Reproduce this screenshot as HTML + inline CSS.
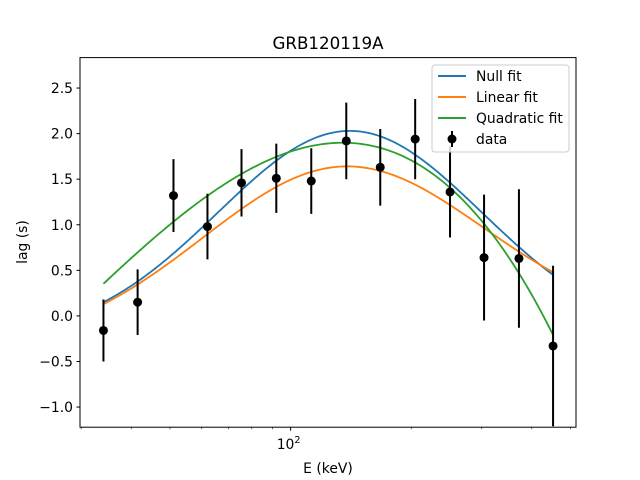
<!DOCTYPE html>
<html><head><meta charset="utf-8"><style>
body{margin:0;background:#fff}
svg{display:block;font-family:"DejaVu Sans","Liberation Sans",sans-serif}
</style></head><body>
<svg id="chart" width="640" height="480">
<rect width="640" height="480" fill="#fff"/>
<text x="328" y="49" font-size="16.7" text-anchor="middle">GRB120119A</text>
<text x="328" y="473" font-size="13.9" text-anchor="middle">E (keV)</text>
<text transform="translate(27,242) rotate(-90)" font-size="13.9" text-anchor="middle">lag (s)</text>
<g id="ticks"></g>
<g id="plot"></g>
<rect x="80" y="57.6" width="496" height="369.6" fill="none" stroke="#000" stroke-width="1"/>
<g>
<rect x="432" y="65" width="137" height="87" rx="3" fill="#fff" fill-opacity="0.8" stroke="#ccc"/>
<line x1="438" y1="76" x2="466" y2="76" stroke="#1f77b4" stroke-width="2"/>
<text x="476" y="81" font-size="13.9">Null fit</text>
<line x1="438" y1="97" x2="466" y2="97" stroke="#ff7f0e" stroke-width="2"/>
<text x="476" y="102" font-size="13.9">Linear fit</text>
<line x1="438" y1="118" x2="466" y2="118" stroke="#2ca02c" stroke-width="2"/>
<text x="476" y="123" font-size="13.9">Quadratic fit</text>
<line x1="452" y1="131" x2="452" y2="147" stroke="#000" stroke-width="2"/>
<circle cx="452" cy="139" r="4.5" fill="#000"/>
<text x="476" y="144" font-size="13.9">data</text>
</g>
</svg>
<script>
const energies=[34.1,41.5,51.0,62.0,75.4,92.1,112.6,137.7,167.4,204.6,250,304,371.5,452];
const lags=[-0.16,0.15,1.32,0.98,1.46,1.51,1.48,1.92,1.63,1.94,1.36,0.64,0.63,-0.33];
const lagErrors=[0.34,0.36,0.40,0.36,0.37,0.38,0.36,0.42,0.42,0.44,0.5,0.69,0.76,0.88];
// gaussian fits: [amplitude, mu(log10 E), sigma, offset, slope]
const nullFit=[2.28,2.148,0.33,-0.25,0];
const linearFit=[1.8436,2.131,0.35,-0.204,0.158];
// polynomial fit in log10 E: [peak value, peak log10 E, quadratic coef, cubic coef]
const quadraticFit=[1.9,2.13,6.1,-2.95];
const yTicks=[-1.0,-0.5,0.0,0.5,1.0,1.5,2.0,2.5];
const xMinorTicks=[30,40,50,60,70,80,90,200,300,400,500];
const xMajorTicks=[100];

const L=80,R=576,T=57.6,B=427.2,xmin=29.8,xmax=515.7,ymin=-1.221,ymax=2.834;
const NS='http://www.w3.org/2000/svg';
const X=e=>L+(Math.log10(e)-Math.log10(xmin))/(Math.log10(xmax)-Math.log10(xmin))*(R-L);
const Y=v=>B-(v-ymin)/(ymax-ymin)*(B-T);
function mk(tag,attrs,parent){const el=document.createElementNS(NS,tag);for(const k in attrs)el.setAttribute(k,attrs[k]);parent.appendChild(el);return el;}
const ticks=document.getElementById('ticks'),plot=document.getElementById('plot');
yTicks.forEach(v=>{
  const l=mk('line',{x1:L-3.5,x2:L,y1:Y(v),y2:Y(v),stroke:'#000'},ticks);
  
  
  const t=mk('text',{x:L-7,y:Y(v)+5,'font-size':'13.9','text-anchor':'end'},ticks);
  t.textContent=(v<0?'\u2212':'')+Math.abs(v).toFixed(1);
  
  
});
xMinorTicks.forEach(e=>{
  const l=mk('line',{x1:X(e),x2:X(e),y1:B,y2:B+2,stroke:'#000','stroke-width':0.6},ticks);
  
  
});
xMajorTicks.forEach(e=>{
  const l=mk('line',{x1:X(e),x2:X(e),y1:B,y2:B+3.5,stroke:'#000'},ticks);
  
  
  const t=mk('text',{x:X(e)-2,y:B+22,'font-size':'13.9','text-anchor':'middle'},ticks);
  t.innerHTML='10<tspan dy="-6" font-size="9.7">'+Math.round(Math.log10(e))+'</tspan>';
  
  
});
function gauss(p,e){const d=Math.log10(e)-p[1];return p[3]+p[4]*d+p[0]*Math.exp(-d*d/(2*p[2]*p[2]));}
function poly(p,e){const d=Math.log10(e)-p[1];return p[0]-p[2]*d*d+p[3]*d*d*d;}
const clip=mk('clipPath',{id:'clp'},plot);mk('rect',{x:L,y:T,width:R-L,height:B-T},clip);
const g=mk('g',{'clip-path':'url(#clp)'},plot);
[[nullFit,gauss,'#1f77b4','null-fit-line'],[linearFit,gauss,'#ff7f0e','linear-fit-line'],[quadraticFit,poly,'#2ca02c','quadratic-fit-line']].forEach(([p,f,c,n])=>{
  const e0=energies[0],e1=energies[energies.length-1];let d='';
  for(let i=0;i<=200;i++){const e=Math.pow(10,Math.log10(e0)+(Math.log10(e1)-Math.log10(e0))*i/200);d+=(i?'L':'M')+X(e).toFixed(2)+','+Y(f(p,e)).toFixed(2);}
  const path=mk('path',{d:d,fill:'none',stroke:c,'stroke-width':1.8},g);
  
  
});
energies.forEach((e,i)=>{
  const l=mk('line',{x1:X(e),x2:X(e),y1:Y(lags[i]-lagErrors[i]),y2:Y(lags[i]+lagErrors[i]),stroke:'#000','stroke-width':2},g);
  
  
  const c=mk('circle',{cx:X(e),cy:Y(lags[i]),r:4.5,fill:'#000'},g);
  
  
});
</script>
</body></html>
